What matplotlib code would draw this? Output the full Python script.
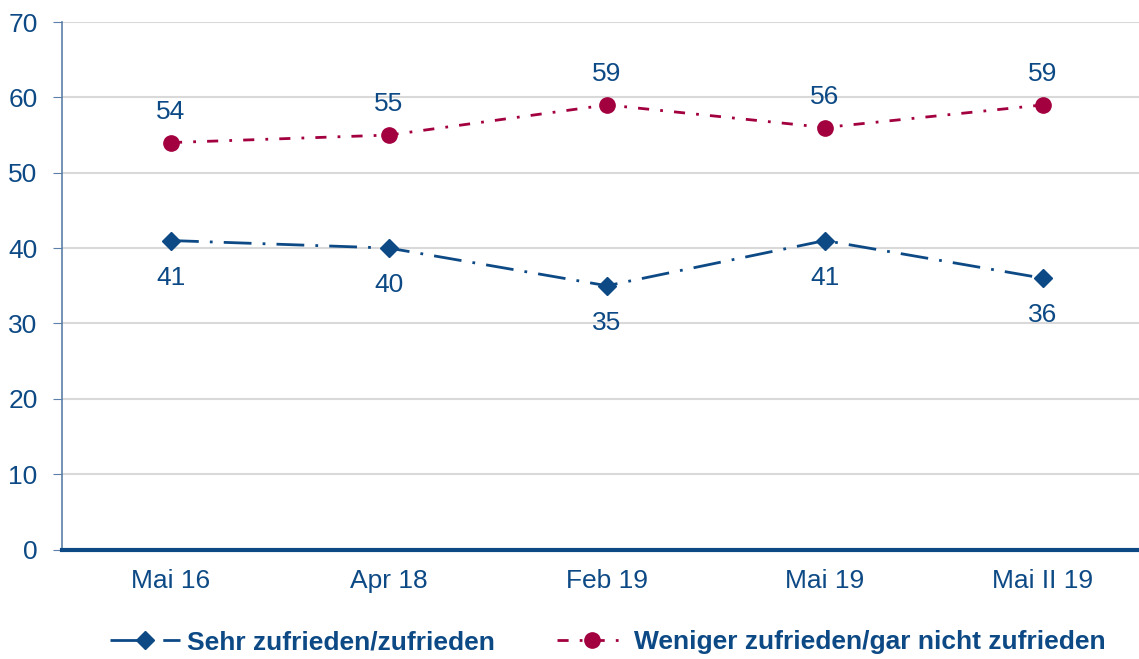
import matplotlib.pyplot as plt
import numpy as np

plt.rcParams['font.family'] = ['Liberation Sans', 'DejaVu Sans']

# data
categories = ["Mai 16", "Apr 18", "Feb 19", "Mai 19", "Mai II 19"]
zufrieden = [41, 40, 35, 41, 36]
nicht_zufrieden = [54, 55, 59, 56, 59]
labels = ["Sehr zufrieden/zufrieden", "Weniger zufrieden/gar nicht zufrieden"]

blue = "#0D4A85"
red = "#A3003F"
grid = "#D9D9D9"
fs = 19

fig = plt.figure(figsize=(11.39, 6.59), dpi=100)
ax = fig.add_axes([62 / 1139, 1 - 549.5 / 659, 1090 / 1139, 527.5 / 659])

x = np.arange(len(categories))
ax.plot(x, zufrieden, color=blue, lw=2, marker="D", ms=9,
        dashes=(10, 4, 1, 4), label=labels[0])
ax.plot(x, nicht_zufrieden, color=red, lw=2, marker="o", ms=11,
        dashes=(4, 4, 1, 4), label=labels[1])

# value labels, blue below, red above
for xi, v in zip(x, zufrieden):
    ax.annotate(str(v), (xi, v), xytext=(0, -25), textcoords="offset points",
                ha="center", va="center_baseline", fontsize=fs, color=blue)
for xi, v in zip(x, nicht_zufrieden):
    ax.annotate(str(v), (xi, v), xytext=(0, 24), textcoords="offset points",
                ha="center", va="center_baseline", fontsize=fs, color=blue)

ax.set_xlim(-0.5, len(categories) - 0.5)
ax.set_ylim(0, 70)
ax.set_yticks(range(0, 71, 10))
ax.set_xticks(x)
ax.set_xticklabels(categories)
ax.yaxis.grid(True, color=grid, lw=1.5)
ax.set_axisbelow(True)

for s in ["top", "right"]:
    ax.spines[s].set_visible(False)
ax.spines["left"].set_color("#5B7FA8")
ax.spines["left"].set_linewidth(1.2)
ax.spines["bottom"].set_color(blue)
ax.spines["bottom"].set_linewidth(3)
ax.tick_params(axis="y", length=6.5, color="#5B7FA8", labelsize=fs,
               labelcolor=blue, pad=11)
ax.tick_params(axis="x", length=0, labelsize=fs, labelcolor=blue, pad=14)

leg = fig.legend(loc="center left", bbox_to_anchor=(110 / 1139, 1 - 642 / 659),
                 ncol=2, frameon=False, prop={"weight": "bold", "size": fs},
                 borderpad=0, borderaxespad=0, handlelength=2.65,
                 columnspacing=2.35, handletextpad=0.27)
for t in leg.get_texts():
    t.set_color(blue)

fig.savefig("out.png", dpi=100)
